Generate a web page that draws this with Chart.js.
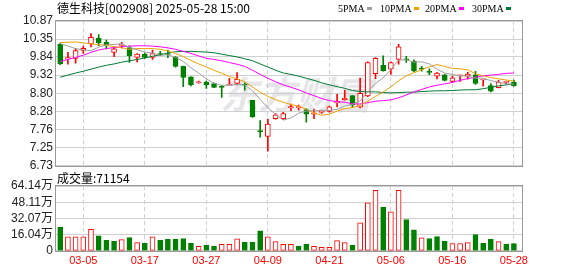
<!DOCTYPE html>
<html>
<head>
<meta charset="utf-8">
<script src="https://cdn.jsdelivr.net/npm/chart.js@4.4.1/dist/chart.umd.min.js"></script>
<style>
  body { margin: 0; background: #fff; }
  #wrap { position: relative; width: 578px; height: 276px; }
  canvas { position: absolute; left: 0; }
  #kline { top: 0; }
  #vol { top: 172px; }
</style>
</head>
<body>
<div id="wrap">
  <canvas id="kline" width="578" height="172"></canvas>
  <canvas id="vol" width="578" height="104"></canvas>
</div>
<script>
// 德生科技 [002908] daily K-line, 2025-02-28 .. 2025-05-28
const dates = ['02-28','03-03','03-04','03-05','03-06','03-07','03-10','03-11','03-12','03-13',
  '03-14','03-17','03-18','03-19','03-20','03-21','03-24','03-25','03-26','03-27',
  '03-28','03-31','04-01','04-02','04-03','04-07','04-08','04-09','04-10','04-11',
  '04-14','04-15','04-16','04-17','04-18','04-21','04-22','04-23','04-24','04-25',
  '04-28','04-29','04-30','05-06','05-07','05-08','05-09','05-12','05-13','05-14',
  '05-15','05-16','05-19','05-20','05-21','05-22','05-23','05-26','05-27','05-28'];

const openP = [10.20,9.78,9.80,10.03,10.21,10.37,10.26,9.97,10.17,10.11,
  9.83,9.92,9.83,9.94,9.93,9.83,9.57,9.27,9.10,9.12,
  9.08,8.99,9.03,9.08,9.05,8.60,7.72,7.56,8.07,8.07,
  8.38,8.39,8.33,8.20,8.25,8.28,8.52,8.61,8.73,8.40,
  8.72,9.36,9.60,9.49,9.77,9.78,9.72,9.51,9.42,9.29,
  9.33,9.14,9.30,9.29,9.33,9.18,9.02,8.96,9.11,9.12];
const highP = [10.24,9.97,10.09,10.15,10.51,10.48,10.32,10.11,10.26,10.16,
  9.94,9.95,10.04,10.00,10.04,9.86,9.58,9.27,9.15,9.15,
  9.09,9.03,9.23,9.39,9.10,8.60,8.02,8.06,8.22,8.25,
  8.49,8.46,8.36,8.35,8.31,8.43,8.77,8.89,8.73,9.23,
  9.70,9.82,9.87,9.70,10.20,9.86,9.76,9.57,9.50,9.40,
  9.34,9.29,9.32,9.40,9.43,9.19,9.08,9.17,9.15,9.18];
const lowP = [9.62,9.63,9.66,9.94,10.13,10.16,10.07,9.85,10.10,9.68,
  9.70,9.80,9.77,9.88,9.82,9.55,8.99,9.01,9.08,8.94,
  8.96,8.68,9.03,9.04,8.89,8.11,7.54,7.14,8.06,8.05,
  8.30,8.32,7.97,8.07,8.22,8.26,8.41,8.60,8.41,8.38,
  8.70,9.22,9.43,9.34,9.63,9.68,9.42,9.43,9.33,9.21,
  9.15,9.10,9.14,9.20,9.05,9.00,8.84,8.95,9.06,9.00];
const closeP = [9.65,9.82,10.02,10.09,10.40,10.25,10.18,10.07,10.19,9.88,
  9.92,9.83,9.94,9.90,9.91,9.57,9.25,9.04,9.13,9.04,
  8.97,8.97,9.05,9.20,9.03,8.12,7.70,7.92,8.18,8.22,
  8.42,8.41,8.20,8.24,8.28,8.41,8.57,8.66,8.47,8.80,
  9.68,9.80,9.44,9.68,10.13,9.76,9.44,9.49,9.40,9.38,
  9.17,9.24,9.32,9.35,9.08,9.19,8.86,9.12,9.12,9.01];

const ma5 = [10.22,10.15,10.08,10.04,10.02,10.12,10.19,10.20,10.22,10.11,
  10.05,9.98,9.95,9.89,9.90,9.83,9.71,9.53,9.38,9.21,
  9.09,9.03,9.03,9.05,9.04,8.87,8.62,8.39,8.19,8.03,
  8.09,8.23,8.29,8.30,8.31,8.31,8.34,8.43,8.48,8.58,
  8.84,9.08,9.24,9.48,9.75,9.76,9.69,9.70,9.64,9.49,
  9.38,9.34,9.30,9.29,9.23,9.23,9.16,9.12,9.07,9.06];
const ma10 = [10.25,10.26,10.27,10.24,10.22,10.19,10.17,10.14,10.10,10.06,
  10.08,10.08,10.08,10.06,10.01,9.94,9.85,9.74,9.64,9.55,
  9.46,9.37,9.28,9.21,9.13,8.98,8.83,8.71,8.62,8.54,
  8.48,8.43,8.34,8.24,8.17,8.20,8.29,8.36,8.39,8.45,
  8.57,8.71,8.84,8.98,9.16,9.30,9.39,9.47,9.56,9.62,
  9.57,9.51,9.50,9.47,9.36,9.30,9.25,9.21,9.18,9.15];
const ma20 = [9.71,9.77,9.83,9.89,9.97,10.04,10.08,10.11,10.13,10.15,
  10.16,10.16,10.15,10.13,10.10,10.06,10.00,9.94,9.87,9.80,
  9.77,9.73,9.68,9.63,9.57,9.46,9.34,9.23,9.13,9.04,
  8.97,8.90,8.81,8.73,8.65,8.59,8.56,8.54,8.50,8.49,
  8.53,8.57,8.59,8.61,8.67,8.75,8.84,8.91,8.98,9.03,
  9.07,9.11,9.17,9.22,9.26,9.30,9.32,9.34,9.37,9.38];
const ma30 = [9.26,9.32,9.38,9.43,9.49,9.55,9.60,9.64,9.69,9.73,
  9.77,9.81,9.86,9.90,9.95,9.99,10.00,10.00,9.99,9.98,
  9.96,9.92,9.88,9.84,9.79,9.73,9.64,9.55,9.46,9.38,
  9.34,9.29,9.23,9.17,9.10,9.04,8.99,8.94,8.88,8.85,
  8.84,8.84,8.82,8.81,8.82,8.83,8.83,8.85,8.86,8.87,
  8.87,8.88,8.89,8.90,8.90,8.93,8.97,9.01,9.04,9.07];

// volume in 万
const volume = [23.5,13.8,13.8,13.8,21.3,14.7,10.3,9.4,11.0,13.1,
  8.1,7.5,13.8,10.3,11.3,11.3,12.2,7.5,4.4,5.6,
  4.7,6.3,6.3,11.9,8.4,8.4,19.7,13.8,9.1,6.3,
  6.3,4.7,6.6,4.4,3.4,3.4,10.0,8.1,5.6,27.8,
  47.6,59.8,43.2,38.5,59.8,31.0,20.7,12.8,12.2,14.1,
  9.4,7.2,7.2,8.1,16.0,7.5,11.3,9.1,6.6,7.12];
const volUp = [0,1,1,1,1,0,0,0,1,0, 1,0,1,0,0,0,0,0,1,0,
  0,1,1,1,0,0,0,1,1,1, 1,0,0,1,1,1,1,1,0,1,
  1,1,0,1,1,0,0,1,0,0, 0,1,1,1,0,0,0,1,0,0];

const priceTicks = [6.73, 7.25, 7.76, 8.28, 8.80, 9.32, 9.84, 10.35, 10.87];
const volTicks = [0, 16.04, 32.07, 48.11, 64.14];
const dateTicks = [3, 11, 19, 27, 35, 43, 51, 59];
const maNames = ['5PMA', '10PMA', '20PMA', '30PMA'];
const lastVolume = 71154;

const RED = '#ff0000', GREEN = '#008000';
const maColors = ['#a0a0a0', '#f0a000', '#ff00ff', '#007a33'];
const FONT = "'Liberation Sans', 'Noto Sans CJK SC', sans-serif";
const CJK = "'Noto Sans CJK SC', sans-serif";

const up = i => closeP[i] >= openP[i];
const xy = arr => arr.map((v, i) => ({ x: i, y: v }));

// gray frame round the plot area
const framePlugin = {
  id: 'frame',
  afterDatasetsDraw(chart) {
    const { ctx, chartArea: a } = chart;
    ctx.save();
    ctx.strokeStyle = '#999';
    ctx.lineWidth = 1;
    ctx.strokeRect(Math.round(a.left) - 0.5, Math.round(a.top) - 0.5,
      Math.round(a.right - a.left) + 1, Math.round(a.bottom - a.top) + 1);
    ctx.restore();
  }
};

// title, MA legend and watermark
const headerPlugin = {
  id: 'header',
  beforeDatasetsDraw(chart) {
    const ctx = chart.ctx;
    ctx.save();
    ctx.font = `italic bold 38px ${CJK}`;
    ctx.fillStyle = 'rgba(200,200,205,0.45)';
    ctx.textBaseline = 'middle';
    ctx.fillText('东方财富', 220, 95);
    ctx.restore();
  },
  afterDraw(chart) {
    const ctx = chart.ctx;
    ctx.save();
    ctx.textBaseline = 'middle';
    ctx.fillStyle = '#000';
    ctx.font = `12px ${CJK}`;
    ctx.fillText('德生科技[002908] 2025-05-28 15:00', 57, 8.5);

    ctx.font = "10px 'Liberation Serif', serif";
    const xs = [338, 380, 425, 472];
    maNames.forEach((t, k) => {
      ctx.fillStyle = '#000';
      ctx.fillText(t, xs[k], 9);
      const w = ctx.measureText(t).width;
      ctx.fillStyle = maColors[k];
      ctx.fillRect(Math.round(xs[k] + w + 2), 7, 5, 3);
    });
    ctx.restore();
  }
};

const volTitlePlugin = {
  id: 'volTitle',
  afterDraw(chart) {
    const ctx = chart.ctx;
    ctx.save();
    ctx.textBaseline = 'middle';
    ctx.fillStyle = '#000';
    ctx.font = `12px ${CJK}`;
    ctx.fillText('成交量:' + lastVolume, 57, 6);
    ctx.restore();
  }
};

function xScale(showLabels) {
  return {
    type: 'linear', min: -0.55, max: 60.05, bounds: 'data', offset: false,
    afterBuildTicks: s => { s.ticks = dateTicks.map(v => ({ value: v })); },
    afterFit: s => { s.paddingLeft = 0; s.paddingRight = 0; },
    ticks: {
      display: showLabels, color: RED, padding: 4, maxRotation: 0, autoSkip: false,
      font: { family: FONT, size: 11 },
      callback: v => dates[v]
    },
    grid: { color: '#d0d0d0', drawTicks: false, offset: false },
    border: { display: false, dash: [4, 3] }
  };
}

function yScale(min, max, ticks, fmt) {
  return {
    min: min, max: max, bounds: 'data', beginAtZero: false,
    afterBuildTicks: s => { s.ticks = ticks.map(v => ({ value: v })); },
    afterFit: s => { s.width = 56; s.paddingTop = 0; s.paddingBottom = 0; },
    ticks: { padding: 3, color: '#222', autoSkip: false, font: { family: FONT, size: 12 }, callback: fmt },
    grid: { color: '#d0d0d0', drawTicks: false },
    border: { display: false }
  };
}

const maSets = [ma5, ma10, ma20, ma30].map((arr, k) => ({
  type: 'line', label: maNames[k], data: xy(arr),
  borderColor: maColors[k], borderWidth: 1, pointRadius: 0, tension: 0, order: k
}));

new Chart(document.getElementById('kline'), {
  type: 'bar',
  data: {
    datasets: maSets.concat([
      {
        label: 'body',
        data: dates.map((d, i) => ({ x: i, y: [openP[i], closeP[i]] })),
        backgroundColor: dates.map((d, i) => up(i) ? '#fff' : GREEN),
        borderColor: dates.map((d, i) => up(i) ? RED : GREEN),
        borderWidth: 1, borderSkipped: false, barThickness: 5, minBarLength: 1,
        grouped: false, order: 5
      },
      {
        label: 'wick',
        data: dates.map((d, i) => ({ x: i, y: [lowP[i], highP[i]] })),
        backgroundColor: dates.map((d, i) => up(i) ? RED : GREEN),
        barThickness: 1, grouped: false, order: 6
      }
    ])
  },
  options: {
    responsive: false, animation: false, devicePixelRatio: 1,
    layout: { padding: { top: 21, right: 56, bottom: 6.5, left: 0 } },
    plugins: { legend: { display: false }, tooltip: { enabled: false } },
    scales: {
      x: xScale(false),
      y: yScale(6.73, 10.87, priceTicks, v => v.toFixed(2))
    }
  },
  plugins: [framePlugin, headerPlugin]
});

new Chart(document.getElementById('vol'), {
  type: 'bar',
  data: {
    datasets: [{
      label: '成交量',
      data: xy(volume),
      backgroundColor: volUp.map(u => u ? '#fff' : GREEN),
      borderColor: volUp.map(u => u ? RED : GREEN),
      borderWidth: 1, borderSkipped: false, barThickness: 5, grouped: false
    }]
  },
  options: {
    responsive: false, animation: false, devicePixelRatio: 1,
    layout: { padding: { top: 14, right: 56, bottom: 4, left: 0 } },
    plugins: { legend: { display: false }, tooltip: { enabled: false } },
    scales: {
      x: xScale(true),
      y: yScale(0, 64.14, volTicks, v => v === 0 ? '0' : v.toFixed(2) + '万')
    }
  },
  plugins: [framePlugin, volTitlePlugin]
});
</script>
</body>
</html>
